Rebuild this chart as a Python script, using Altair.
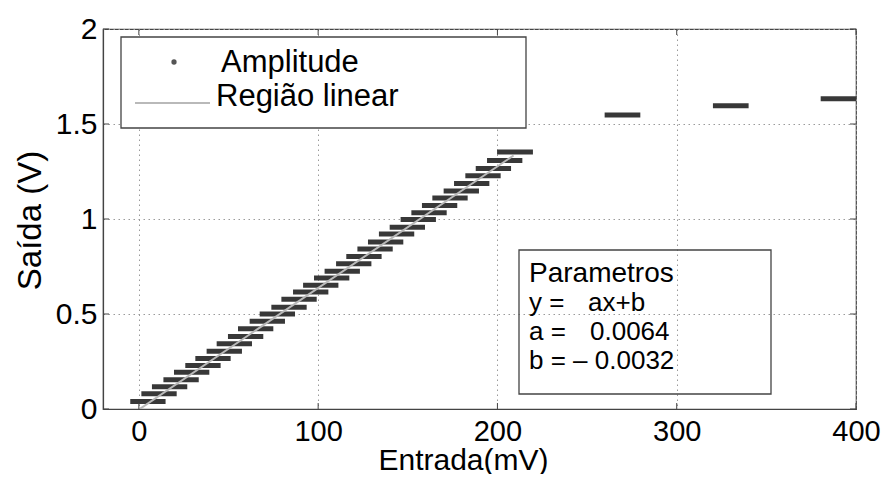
import altair as alt
import pandas as pd

# Amplitude steps: start / end of each horizontal segment (mV) and output (V)
x_start = [-4.8, 1.4, 7.3, 13.7, 19.6, 25.9, 31.5, 37.8, 43.4, 49.7, 55.3, 61.8,
           67.4, 73.9, 79.5, 86.0, 91.6, 97.7, 103.6, 110.0, 115.7, 121.9, 127.8,
           133.9, 139.9, 146.0, 152.0, 157.9, 163.7, 170.0, 175.8, 182.1, 187.9,
           194.2, 199.8, 259.8, 320.2, 380.3]
x_end = [14.9, 21.1, 27.0, 33.4, 39.3, 45.6, 51.2, 57.5, 63.1, 69.4, 75.0, 81.5,
         87.1, 93.6, 99.2, 105.7, 111.3, 117.4, 123.3, 129.7, 135.4, 141.6, 147.5,
         153.6, 159.6, 165.7, 171.7, 177.6, 183.4, 189.7, 195.5, 201.8, 207.6,
         213.9, 219.8, 279.7, 340.1, 400.0]
y_out = [0.040, 0.080, 0.117, 0.154, 0.194, 0.229, 0.266, 0.304, 0.343, 0.381,
         0.423, 0.462, 0.500, 0.536, 0.578, 0.616, 0.651, 0.690, 0.725, 0.765,
         0.803, 0.842, 0.879, 0.921, 0.957, 0.998, 1.033, 1.071, 1.110, 1.147,
         1.187, 1.227, 1.266, 1.308, 1.353, 1.547, 1.596, 1.633]

# Linear region fit y = a x + b
fit_x = [0, 209]
fit_y = [-0.0032, 1.3344]

x_ticks = [0, 100, 200, 300, 400]
y_ticks = [0, 0.5, 1, 1.5, 2]

legend_labels = ["Amplitude", "Região linear"]
param_lines = ["Parametros", "y =", "ax+b", "a =", "0.0064", "b = \u2013 0.0032"]

W, H = 753, 380
FONT = "Liberation Sans"

xs = alt.Scale(domain=[-20, 400], nice=False, zero=False)
ys = alt.Scale(domain=[0, 2], nice=False, zero=False)

x_enc = alt.X("x0:Q", scale=xs,
              axis=alt.Axis(values=x_ticks, title="Entrada(mV)", labelFontSize=29,
                            labelPadding=8, labelFlush=False, titleFontSize=30,
                            titleX=360, titleY=60,
                            titleBaseline="alphabetic", titleAlign="center"))
y_enc = alt.Y("y:Q", scale=ys,
              axis=alt.Axis(values=y_ticks, title="Saída (V)", labelFontSize=30,
                            labelPadding=6, labelExpr="'' + datum.value",
                            labelFlush=False,
                            titleFontSize=33, titleX=-63, titleY=191,
                            titleAngle=270, titleBaseline="alphabetic",
                            titleAlign="center"))

bars_df = pd.DataFrame({"x0": x_start, "x1": x_end, "y": y_out})
bars = alt.Chart(bars_df).mark_rule(strokeWidth=5, color="#383838",
                                    strokeCap="butt").encode(
    x=x_enc, x2="x1:Q", y=y_enc)

line = alt.Chart(pd.DataFrame({"x0": fit_x, "y": fit_y})).mark_line(
    color="#b9b9b9", strokeWidth=2, clip=True).encode(x=x_enc, y=y_enc)

xt = pd.DataFrame({"x0": x_ticks})
yt = pd.DataFrame({"y": y_ticks})
tick_style = dict(color="#444", strokeWidth=1)
t_bottom = alt.Chart(xt).mark_rule(**tick_style).encode(
    x=x_enc, y=alt.value(H), y2=alt.value(H - 6))
t_top = alt.Chart(xt).mark_rule(**tick_style).encode(
    x=x_enc, y=alt.value(0), y2=alt.value(6))
t_left = alt.Chart(yt).mark_rule(**tick_style).encode(
    y=y_enc, x=alt.value(0), x2=alt.value(6))
t_right = alt.Chart(yt).mark_rule(**tick_style).encode(
    y=y_enc, x=alt.value(W - 6), x2=alt.value(W))

one = pd.DataFrame({"k": [0]})

# legend box
leg_box = alt.Chart(one).mark_rect(fill="white", stroke="#444",
                                   strokeWidth=1.3).encode(
    x=alt.value(18), x2=alt.value(423), y=alt.value(8), y2=alt.value(99))
leg_dot = alt.Chart(one).mark_point(filled=True, size=28, color="#555",
                                    opacity=1).encode(
    x=alt.value(71), y=alt.value(33))
leg_line = alt.Chart(one).mark_rule(color="#b9b9b9", strokeWidth=2).encode(
    x=alt.value(32), x2=alt.value(107), y=alt.value(74))
leg_t1 = alt.Chart(pd.DataFrame({"t": [legend_labels[0]]})).mark_text(
    align="left", baseline="alphabetic", fontSize=31, font=FONT,
    color="black").encode(x=alt.value(118), y=alt.value(43), text="t:N")
leg_t2 = alt.Chart(pd.DataFrame({"t": [legend_labels[1]]})).mark_text(
    align="left", baseline="alphabetic", fontSize=31, font=FONT,
    color="black").encode(x=alt.value(113), y=alt.value(77), text="t:N")

# parameters box
par_box = alt.Chart(one).mark_rect(fill=None, stroke="#444",
                                   strokeWidth=1.3).encode(
    x=alt.value(416), x2=alt.value(668), y=alt.value(221), y2=alt.value(365))

def ptext(s, x, y, size):
    return alt.Chart(pd.DataFrame({"t": [s]})).mark_text(
        align="left", baseline="alphabetic", fontSize=size, font=FONT,
        color="black").encode(x=alt.value(x), y=alt.value(y), text="t:N")

p1 = ptext(param_lines[0], 426, 253, 28)
p2 = ptext(param_lines[1], 426, 282, 26)
p3 = ptext(param_lines[2], 485, 282, 26)
p4 = ptext(param_lines[3], 426, 311, 26)
p5 = ptext(param_lines[4], 487, 311, 26)
p6 = ptext(param_lines[5], 426, 340, 26)

chart = alt.layer(
    bars, line, t_bottom, t_top, t_left, t_right,
    leg_box, leg_dot, leg_line, leg_t1, leg_t2,
    par_box, p1, p2, p3, p4, p5, p6,
).properties(
    width=W, height=H,
    autosize=alt.AutoSizeParams(type="none"),
    padding={"left": 95, "top": 21, "right": 26, "bottom": 65},
).configure_view(
    stroke="#444", strokeWidth=1.2
).configure_axis(
    labelFont=FONT, titleFont=FONT, labelColor="black", titleColor="black",
    titleFontWeight="normal", grid=True, gridColor="#9a9a9a",
    gridDash=[1.5, 3.5], gridWidth=1, tickSize=0, domainColor="#444",
    domainWidth=1.2
)

chart.save("out.html", embed_options={"renderer": "svg", "actions": False})
